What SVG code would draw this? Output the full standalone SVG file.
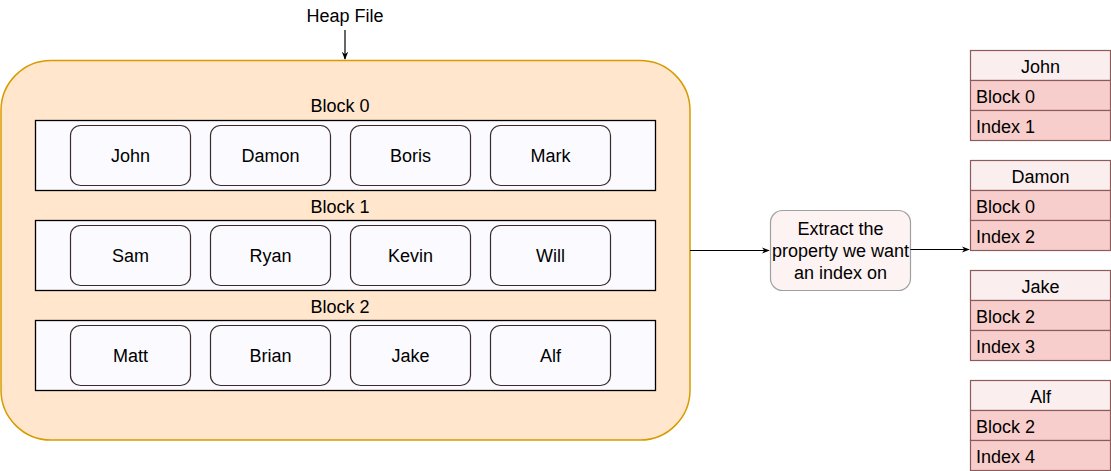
<svg xmlns="http://www.w3.org/2000/svg" width="1111" height="471" viewBox="0 0 1111 471">
<defs>
<marker id="arr" viewBox="0 0 10 10" refX="9" refY="5" markerWidth="8" markerHeight="8" markerUnits="userSpaceOnUse" orient="auto">
<path d="M0,1 L10,5 L0,9 L3,5 Z" fill="#000"/>
</marker>
<style>
text{font-family:"Liberation Sans",Arial,sans-serif;font-size:18px;fill:#000}
.c{text-anchor:middle}
.blk{fill:#fbfbff;stroke:#000;stroke-width:1.3}
.rec{fill:#fbfbff;stroke:#3a2a2a;stroke-width:1.2}
.hd{fill:#fbeeee;stroke:#8c5b5b;stroke-width:1.2}
.row{fill:#f8cecc;stroke:#8c5b5b;stroke-width:1.2}
.ln{stroke:#000;stroke-width:1.2;fill:none}
</style>
</defs>
<g id="heap">
<rect x="1" y="60.5" width="689" height="379.5" rx="50" ry="50" fill="#ffe6cc" stroke="#d79b00" stroke-width="1.5"/>
<text class="c" x="345" y="22">Heap File</text>
</g>
<g id="block0">
<text class="c" x="340" y="112">Block 0</text>
<rect class="blk" x="35.5" y="120.5" width="620" height="70"/>
<rect class="rec" x="70.5" y="125.5" width="120" height="60" rx="10"/><text class="c" x="130.5" y="162">John</text>
<rect class="rec" x="210.5" y="125.5" width="120" height="60" rx="10"/><text class="c" x="270.5" y="162">Damon</text>
<rect class="rec" x="350.5" y="125.5" width="120" height="60" rx="10"/><text class="c" x="410.5" y="162">Boris</text>
<rect class="rec" x="490.5" y="125.5" width="120" height="60" rx="10"/><text class="c" x="550.5" y="162">Mark</text>
</g>
<g id="block1">
<text class="c" x="340" y="213">Block 1</text>
<rect class="blk" x="35.5" y="220.5" width="620" height="70"/>
<rect class="rec" x="70.5" y="225.5" width="120" height="60" rx="10"/><text class="c" x="130.5" y="262">Sam</text>
<rect class="rec" x="210.5" y="225.5" width="120" height="60" rx="10"/><text class="c" x="270.5" y="262">Ryan</text>
<rect class="rec" x="350.5" y="225.5" width="120" height="60" rx="10"/><text class="c" x="410.5" y="262">Kevin</text>
<rect class="rec" x="490.5" y="225.5" width="120" height="60" rx="10"/><text class="c" x="550.5" y="262">Will</text>
</g>
<g id="block2">
<text class="c" x="340" y="313">Block 2</text>
<rect class="blk" x="35.5" y="320.5" width="620" height="70"/>
<rect class="rec" x="70.5" y="325.5" width="120" height="60" rx="10"/><text class="c" x="130.5" y="362">Matt</text>
<rect class="rec" x="210.5" y="325.5" width="120" height="60" rx="10"/><text class="c" x="270.5" y="362">Brian</text>
<rect class="rec" x="350.5" y="325.5" width="120" height="60" rx="10"/><text class="c" x="410.5" y="362">Jake</text>
<rect class="rec" x="490.5" y="325.5" width="120" height="60" rx="10"/><text class="c" x="550.5" y="362">Alf</text>
</g>
<g id="extract">
<rect x="770.5" y="210.5" width="140" height="80" rx="12" fill="#fdf3f3" stroke="#a0a0a0" stroke-width="1.2"/>
<text class="c" x="840.5" y="235">Extract the</text>
<text class="c" x="840.5" y="257">property we want</text>
<text class="c" x="840.5" y="279">an index on</text>
</g>
<g id="idx-john">
<rect class="hd" x="970.5" y="50.5" width="140" height="30"/><text class="c" x="1040.5" y="73">John</text>
<rect class="row" x="970.5" y="80.5" width="140" height="30"/><text x="976" y="103">Block 0</text>
<rect class="row" x="970.5" y="110.5" width="140" height="30"/><text x="976" y="133">Index 1</text>
</g>
<g id="idx-damon">
<rect class="hd" x="970.5" y="160.5" width="140" height="30"/><text class="c" x="1040.5" y="183">Damon</text>
<rect class="row" x="970.5" y="190.5" width="140" height="30"/><text x="976" y="213">Block 0</text>
<rect class="row" x="970.5" y="220.5" width="140" height="30"/><text x="976" y="243">Index 2</text>
</g>
<g id="idx-jake">
<rect class="hd" x="970.5" y="270.5" width="140" height="30"/><text class="c" x="1040.5" y="293">Jake</text>
<rect class="row" x="970.5" y="300.5" width="140" height="30"/><text x="976" y="323">Block 2</text>
<rect class="row" x="970.5" y="330.5" width="140" height="30"/><text x="976" y="353">Index 3</text>
</g>
<g id="idx-alf">
<rect class="hd" x="970.5" y="380.5" width="140" height="30"/><text class="c" x="1040.5" y="403">Alf</text>
<rect class="row" x="970.5" y="410.5" width="140" height="30"/><text x="976" y="433">Block 2</text>
<rect class="row" x="970.5" y="440.5" width="140" height="30"/><text x="976" y="463">Index 4</text>
</g>
<g id="connectors">
<line class="ln" x1="345" y1="30" x2="345" y2="59" marker-end="url(#arr)"/>
<line class="ln" x1="690" y1="250.5" x2="769" y2="250.5" marker-end="url(#arr)"/>
<line class="ln" x1="910.5" y1="249.5" x2="969" y2="249.5" marker-end="url(#arr)"/>
</g>
</svg>
